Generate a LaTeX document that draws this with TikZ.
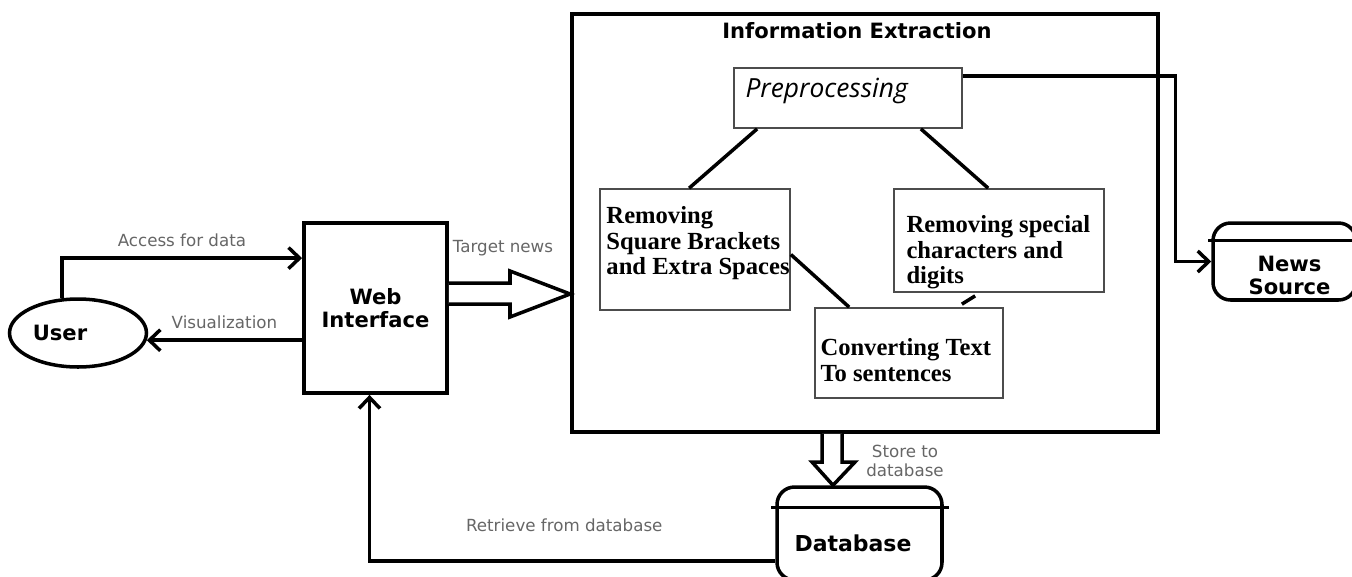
\documentclass[tikz,border=0pt]{standalone}
\usepackage{fontspec}
\setmainfont{Liberation Serif}
\newfontfamily\dvsans{DejaVu Sans}
\newfontfamily\opsans{Open Sans}
\usetikzlibrary{arrows.meta,calc,positioning,shapes.geometric}

\begin{document}
\begin{tikzpicture}[x=0.02cm,y=-0.02cm,
    flow/.style={line width=2pt,-{Straight Barb[length=2.2mm,width=4.2mm]}},
    hollow/.style={line width=2pt,fill=white,line join=miter},
    link/.style={line width=2pt},
    bigbox/.style={draw,line width=2.2pt,inner sep=0pt},
    procbox/.style={draw=black!70,line width=1pt,inner sep=0pt},
    store/.style={draw,line width=2pt,rounded corners=0.35cm,inner sep=0pt},
    boxtext/.style={anchor=north west,align=left,inner sep=0pt,font=\bfseries\fontsize{14}{14.5}\selectfont},
    heading/.style={align=center,font=\dvsans\bfseries\fontsize{12}{13}\selectfont},
    flowlabel/.style={font=\dvsans\fontsize{9.5}{10.5}\selectfont,text=black!60,align=center}]
    \useasboundingbox (0,0) rectangle (1352,576);

    % user side
    \node[ellipse,draw,line width=2pt,minimum width=2.74cm,minimum height=1.36cm,
        label={[heading,xshift=-0.36cm]center:User}] (user) at (78,333) {};
    \node[bigbox,minimum width=2.86cm,minimum height=3.4cm,heading] (web) at (375.5,308) {Web\\Interface};

    % extraction block
    \node[bigbox,minimum width=11.72cm,minimum height=8.36cm] (ie) at (865,223) {};
    \node[heading] (ietitle) at (857,31) {Information Extraction};
    \node[procbox,minimum width=4.56cm,minimum height=1.2cm,
        label={[anchor=north west,inner sep=0pt,xshift=0.24cm,yshift=-0.22cm,
            font=\opsans\itshape\fontsize{15}{17}\selectfont]north west:Preprocessing}] (prep) at (848,98) {};
    \node[procbox,minimum width=3.8cm,minimum height=2.42cm,
        label={[boxtext,xshift=0.14cm,yshift=-0.36cm]north west:{Removing\\Square Brackets\\and Extra Spaces}}] (sq) at (695,249.5) {};
    \node[procbox,minimum width=4.2cm,minimum height=2.06cm,
        label={[boxtext,xshift=0.26cm,yshift=-0.54cm]north west:{Removing special\\characters and\\digits}}] (sp) at (999,240.5) {};
    \node[procbox,minimum width=3.76cm,minimum height=1.8cm,
        label={[boxtext,xshift=0.12cm,yshift=-0.62cm]north west:{Converting Text\\To sentences}}] (conv) at (909,353) {};

    \draw[link] ($(prep.south west)+(24,0)$) -- ($(sq.north west)+(90,0)$);
    \draw[link] ($(prep.south east)+(-42,0)$) -- ($(sp.north west)+(95,0)$);
    \draw[link] ($(sq.east)+(0,5)$) -- ($(conv.north west)+(35,0)$);
    \draw[link] ($(sp.south west)+(82,3)$) -- ($(conv.north east)+(-42,-3)$);

    % stores
    \node[store,minimum width=2.86cm,minimum height=1.54cm,
        label={[heading,xshift=0.1cm,yshift=-0.28cm]center:{News\\Source}}] (news) at (1284.5,261.5) {};
    \draw[line width=2pt] ($(news.north west)+(-3,19)$) -- ($(news.north east)+(3,19)$);
    \node[store,minimum width=3.3cm,minimum height=1.86cm,
        label={[heading,font=\dvsans\bfseries\fontsize{12.5}{13}\selectfont,xshift=-0.13cm,yshift=-0.2cm]center:Database}] (db) at (859.5,533.5) {};
    \draw[line width=2pt] ($(db.north west)+(-4,22)$) -- ($(db.north east)+(5,22)$);

    % flows
    \draw[flow] (user.115) |- ($(web.north west)+(0,37)$)
        node[flowlabel,pos=0.75,above=0.08cm] {Access for data};
    \draw[flow] (web.west |- user.-6) -- (user.-6)
        node[flowlabel,midway,above=0.08cm] {Visualization};
    \draw[hollow] (web.east |- 0,283) -- (510,283) -- (510,271) -- (ie.west |- 0,294)
        -- (510,317) -- (510,304) -- (web.east |- 0,304);
    \node[flowlabel] (tnlbl) at (503,248) {Target news};
    \draw[flow] ($(prep.north east)+(0,9)$) -| ($(news.west)+(-36,0)$) -- (news.west);
    \draw[hollow] (ie.south -| 822,0) -- (822,462) -- (812,462) -- (db.north -| 833,0)
        -- (855,462) -- (842,462) -- (ie.south -| 842,0);
    \node[flowlabel] (storelbl) at (905,461) {Store to\\database};
    \draw[flow] ($(db.south west)+(0,-21)$) -| ($(web.south)+(-6,0)$)
        node[flowlabel,pos=0.26,above=0.42cm] {Retrieve from database};
\end{tikzpicture}
\end{document}
